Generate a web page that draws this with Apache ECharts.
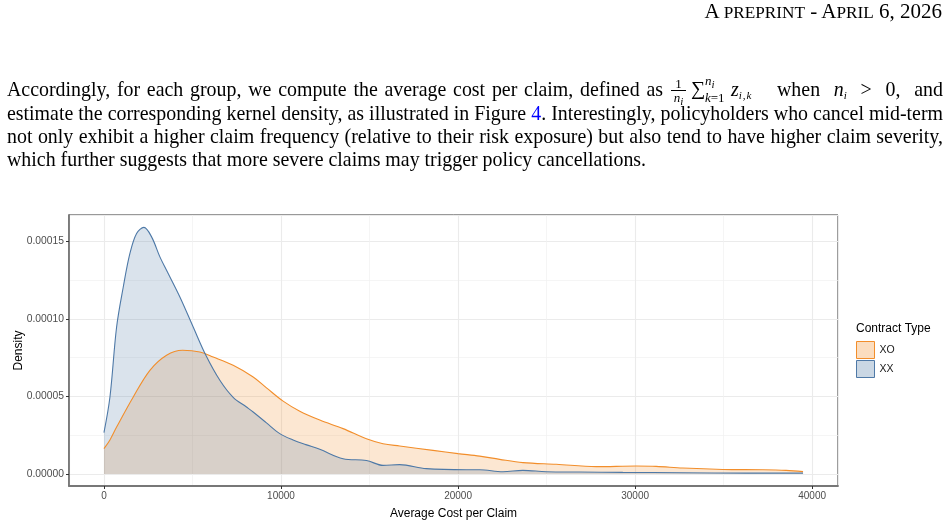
<!DOCTYPE html>
<html>
<head>
<meta charset="utf-8">
<script src="https://cdn.jsdelivr.net/npm/echarts@6/dist/echarts.min.js"></script>
<style>
  html, body { margin: 0; padding: 0; background: #fff; }
  body { width: 951px; height: 521px; position: relative; overflow: hidden; }
  #chart { position: absolute; left: 0; top: 0; width: 951px; height: 521px; }
  .serif { font-family: "Liberation Serif", "Times New Roman", serif; color: #000; }
  #head { position: absolute; right: 9px; top: 1px; font-size: 21px; line-height: 21px; white-space: nowrap; }
  #head .sc { font-size: 0.82em; }
  .line { position: absolute; left: 7px; width: 936px; font-size: 19.9px; line-height: 23.3px; height: 23.3px; white-space: nowrap; text-align: justify; text-align-last: justify; }
  .line.last { text-align: left; text-align-last: left; }
  .m { font-style: italic; }
  .math { position: absolute; font-size: 19.9px; line-height: 23.3px; height: 23.3px; white-space: nowrap; }
  .frac { display: inline-block; position: relative; width: 15px; height: 0; }
  .fn { position: absolute; left: 0; width: 100%; bottom: 5px; text-align: center; font-size: 13px; line-height: 12px; border-bottom: 1px solid #000; }
  .fd { position: absolute; left: 0; width: 100%; top: -4px; text-align: center; font-size: 13px; line-height: 12px; }
  .sub { font-size: 11px; font-style: italic; position: relative; top: 3px; }
  .sum { display: inline-block; position: relative; width: 40px; height: 0; margin-left: 5px; }
  .sum .sg { position: absolute; left: 0; bottom: -2px; font-size: 20px; line-height: 20px; }
  .sum .up { position: absolute; left: 14px; bottom: 9px; font-size: 13px; line-height: 12px; white-space: nowrap; }
  .sum .dn { position: absolute; left: 14px; top: -4px; font-size: 13px; line-height: 12px; white-space: nowrap; }
  .ref { color: #0000ff; }
</style>
</head>
<body>
<div id="chart"></div>
<div id="head" class="serif">A <span class="sc">PREPRINT</span> - A<span class="sc">PRIL</span> 6, 2026</div>
<div class="line serif" style="top:78.3px;width:656px">Accordingly, for each group, we compute the average cost per claim, defined as</div>
<div class="math serif" style="top:78.3px;left:671px"><span class="frac"><span class="fn">1</span><span class="fd"><span class="m">n</span><span class="sub">i</span></span></span><span class="sum"><span class="sg">&#8721;</span><span class="up"><span class="m">n</span><span class="sub">i</span></span><span class="dn"><span class="m">k</span>=1</span></span><span class="m">z</span><span class="sub" style="letter-spacing:1px">i,k</span></div>
<div class="line serif" style="top:78.3px;left:777px;width:166px">when <span class="m">n</span><span class="sub">i</span> &gt; 0, and</div>
<div class="line serif" style="top:101.6px">estimate the corresponding kernel density, as illustrated in Figure <span class="ref">4</span>. Interestingly, policyholders who cancel mid-term</div>
<div class="line serif" style="top:124.9px">not only exhibit a higher claim frequency (relative to their risk exposure) but also tend to have higher claim severity,</div>
<div class="line serif last" style="top:148.2px">which further suggests that more severe claims may trigger policy cancellations.</div>
<script>
// contract type XO (orange)
const xoCost = [0, 339, 715, 1655, 2596, 3536, 4439, 5418, 6170, 7298, 8427, 9180, 10119, 11061, 12190, 13504, 14825, 15762, 16704, 18583, 19994, 21219, 22348, 23662, 25547, 27805, 30062, 31190, 32692, 34949, 37207, 38527, 39486];
const xoDensity = [1.64e-5, 2.2e-5, 3.03e-5, 4.97e-5, 6.69e-5, 7.66e-5, 7.98e-5, 7.87e-5, 7.55e-5, 7.01e-5, 6.26e-5, 5.56e-5, 4.7e-5, 4.05e-5, 3.48e-5, 2.93e-5, 2.28e-5, 1.96e-5, 1.81e-5, 1.53e-5, 1.32e-5, 1.16e-5, 9.5e-6, 7.4e-6, 6.3e-6, 4.8e-6, 5.2e-6, 5.0e-6, 3.9e-6, 3.0e-6, 2.8e-6, 2.4e-6, 1.6e-6];

// contract type XX (blue)
const xxCost = [0, 339, 715, 1091, 1467, 1843, 2257, 2690, 3160, 3536, 4289, 5041, 5756, 6546, 7298, 8051, 8427, 9180, 9932, 10684, 11400, 12190, 13504, 14825, 15762, 16704, 18211, 20467, 21219, 22534, 23662, 24983, 26862, 29306, 32692, 36269, 39486];
const xxDensity = [2.67e-5, 4.97e-5, 9.48e-5, 1.206e-4, 1.422e-4, 1.551e-4, 1.59e-4, 1.529e-4, 1.40e-4, 1.314e-4, 1.142e-4, 9.48e-5, 7.66e-5, 6.05e-5, 4.95e-5, 4.32e-5, 4.0e-5, 3.3e-5, 2.61e-5, 2.2e-5, 1.9e-5, 1.6e-5, 9.9e-6, 8.8e-6, 5.6e-6, 6.1e-6, 3.5e-6, 2.8e-6, 2.8e-6, 1.5e-6, 2.4e-6, 1.5e-6, 1.3e-6, 1.1e-6, 0.9e-6, 0.6e-6, 0.6e-6];

const groupNames = ["XO", "XX"];
const legendTitle = "Contract Type";
const xTitle = "Average Cost per Claim";
const yTitle = "Density";

// ggplot style 5% expansion around the data
const xMin = -1974, xMax = 41460;
const yMin = -0.00000768, yMax = 0.000167;

const orange = "#F28E2B";
const blue = "#4E79A7";
const font = "Liberation Sans, Arial, sans-serif";

const chart = echarts.init(document.getElementById("chart"), null, { renderer: "canvas" });

function pairs(xs, ys) {
  return xs.map((x, i) => [x, ys[i]]);
}

chart.setOption({
  animation: false,
  textStyle: { fontFamily: font },
  title: {
    text: legendTitle,
    left: 856,
    top: 323,
    padding: 0,
    textStyle: { fontSize: 12, fontWeight: "normal", color: "#000", fontFamily: font },
  },
  legend: {
    orient: "vertical",
    left: 856,
    top: 341,
    padding: 0,
    itemWidth: 18,
    itemHeight: 17,
    itemGap: 1,
    icon: "rect",
    textStyle: { fontSize: 10.5, color: "#1a1a1a", fontFamily: font },
    data: [
      { name: groupNames[0], itemStyle: { color: "rgba(242,142,43,0.3)", borderColor: orange, borderWidth: 1 } },
      { name: groupNames[1], itemStyle: { color: "rgba(78,121,167,0.3)", borderColor: blue, borderWidth: 1 } },
    ],
  },
  grid: {
    left: 69,
    top: 215,
    width: 769,
    height: 271,
    outerBoundsMode: "none",
    show: true,
    borderColor: "#333",
    borderWidth: 1,
    backgroundColor: "transparent",
  },
  xAxis: {
    type: "value",
    min: xMin,
    max: xMax,
    splitNumber: 4,
    name: xTitle,
    nameLocation: "middle",
    nameGap: 22,
    nameMoveOverlap: false,
    nameTextStyle: { color: "#000", fontSize: 12, fontFamily: font },
    axisLine: { onZero: false, lineStyle: { color: "#777", width: 1.8 } },
    axisTick: { length: 3, lineStyle: { color: "#333", width: 1 } },
    axisLabel: {
      showMinLabel: false,
      showMaxLabel: false,
      color: "#4d4d4d",
      fontSize: 10,
      margin: 5,
      fontFamily: font,
      formatter: (v) => String(v),
    },
    splitLine: { lineStyle: { color: "#ebebeb", width: 1.1 } },
    minorTick: { show: false, splitNumber: 2 },
    minorSplitLine: { show: true, lineStyle: { color: "#f1f1f1", width: 0.7 } },
  },
  yAxis: {
    type: "value",
    min: yMin,
    max: yMax,
    splitNumber: 4,
    name: yTitle,
    nameLocation: "middle",
    nameGap: 44,
    nameMoveOverlap: false,
    nameRotate: 90,
    nameTextStyle: { color: "#000", fontSize: 12, fontFamily: font },
    axisLine: { show: true, onZero: false, lineStyle: { color: "#777", width: 1.8 } },
    axisTick: { show: true, length: 3, lineStyle: { color: "#333", width: 1 } },
    axisLabel: {
      showMinLabel: false,
      showMaxLabel: false,
      color: "#4d4d4d",
      fontSize: 10.3,
      margin: 5,
      fontFamily: font,
      formatter: (v) => v.toFixed(5),
    },
    splitLine: { lineStyle: { color: "#ebebeb", width: 1.1 } },
    minorTick: { show: false, splitNumber: 2 },
    minorSplitLine: { show: true, lineStyle: { color: "#f1f1f1", width: 0.7 } },
  },
  series: [
    {
      name: groupNames[0],
      type: "line",
      data: pairs(xoCost, xoDensity),
      showSymbol: false,
      smooth: 0.35,
      lineStyle: { color: orange, width: 1.1 },
      itemStyle: { color: orange },
      areaStyle: { color: "rgba(242,142,43,0.3)" },
    },
    {
      name: groupNames[1],
      type: "line",
      data: pairs(xxCost, xxDensity),
      showSymbol: false,
      smooth: 0.35,
      lineStyle: { color: blue, width: 1.1 },
      itemStyle: { color: blue },
      areaStyle: { color: "rgba(78,121,167,0.3)" },
    },
  ],
});
</script>
</body>
</html>
